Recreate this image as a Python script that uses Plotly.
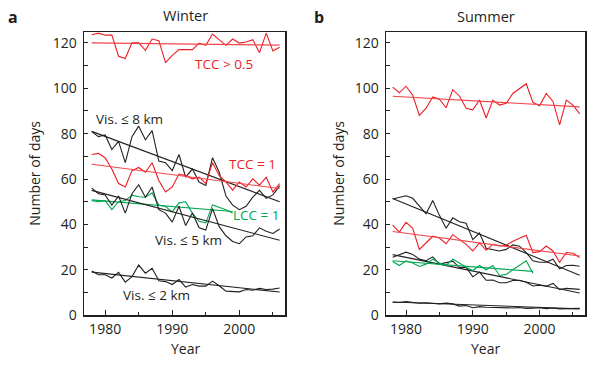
import plotly.graph_objects as go

# ---------------- data ----------------
years = list(range(1978, 2007))
years_lcc = list(range(1978, 2000))

# Winter
w_tcc05 = [123.6, 124.3, 123.4, 123.4, 114.1, 113.1, 120.0, 120.0, 116.7, 121.7, 121.0, 111.3, 114.5, 117.0, 117.0,
           117.0, 119.9, 118.9, 123.9, 121.4, 118.9, 121.7, 119.9, 120.4, 121.4, 115.7, 124.3, 116.4, 118.1]
w_vis8 = [80.9, 78.7, 79.4, 73.0, 76.6, 67.2, 78.7, 83.3, 77.3, 81.3, 67.9, 67.2, 63.7, 70.8, 60.8,
          64.4, 58.7, 57.2, 69.4, 63.0, 52.5, 48.5, 46.5, 48.0, 52.0, 55.0, 51.5, 53.0, 57.0]
w_tcc1 = [70.8, 71.3, 69.4, 64.4, 58.0, 56.5, 63.7, 65.1, 63.0, 67.2, 59.4, 54.3, 56.5, 62.2, 61.5,
          60.1, 60.8, 58.0, 67.2, 61.5, 58.7, 55.1, 58.7, 56.5, 60.1, 57.3, 60.8, 54.3, 58.0]
w_lcc1 = [50.5, 50.0, 50.5, 46.5, 50.0, 50.5, 52.9, 52.2, 52.0, 53.9, 48.6, 47.9, 45.5, 49.5, 50.0,
          45.0, 41.4, 40.7, 48.6, 47.5, 46.5, 45.0]
w_vis5 = [56.0, 53.5, 53.0, 48.5, 52.5, 45.0, 53.5, 57.5, 52.0, 56.5, 46.5, 45.0, 41.0, 48.0, 39.5,
          45.0, 38.5, 37.5, 47.0, 39.0, 35.0, 32.5, 31.5, 34.5, 35.0, 38.5, 37.0, 36.0, 38.0]
w_vis2 = [19.5, 17.8, 17.8, 16.4, 18.9, 14.6, 17.0, 22.1, 18.5, 20.7, 15.2, 14.8, 13.5, 15.7, 12.4,
          13.5, 12.8, 12.8, 15.0, 13.0, 10.6, 10.6, 10.3, 11.3, 11.0, 11.8, 11.3, 11.5, 12.0]

# Summer
s_tcc05 = [100.5, 98.0, 100.9, 96.9, 88.0, 91.2, 96.2, 95.2, 91.4, 99.4, 96.6, 91.2, 90.5, 94.8, 86.9,
           94.8, 92.6, 93.4, 97.7, 99.8, 102.0, 93.8, 92.3, 97.7, 94.2, 83.9, 94.8, 92.6, 88.7]
s_vis8 = [51.2, 51.9, 52.6, 51.5, 48.3, 44.7, 50.5, 44.0, 38.3, 42.9, 41.2, 40.5, 33.3, 36.2, 29.5,
          29.0, 28.3, 29.0, 31.0, 30.4, 27.6, 24.0, 23.3, 23.3, 24.7, 20.4, 21.9, 22.0, 21.6]
s_tcc1 = [39.7, 36.6, 40.9, 38.3, 29.0, 31.9, 34.8, 34.0, 31.5, 35.5, 33.3, 31.2, 28.3, 31.9, 28.6,
          31.2, 30.5, 30.8, 32.6, 34.0, 35.2, 27.6, 28.0, 30.5, 28.3, 23.3, 27.6, 27.3, 25.4]
s_vis5 = [25.5, 26.5, 27.8, 26.8, 24.7, 24.0, 25.7, 22.5, 23.0, 23.8, 21.0, 21.1, 16.9, 19.0, 15.4,
          15.5, 14.3, 14.3, 15.3, 15.4, 14.5, 12.9, 13.2, 12.8, 14.0, 11.3, 11.8, 11.5, 11.4]
s_lcc1 = [23.7, 21.9, 24.0, 23.0, 21.5, 22.5, 24.7, 23.0, 22.0, 24.7, 23.0, 21.1, 19.7, 21.9, 20.0,
          21.9, 17.5, 18.0, 20.0, 21.9, 24.0, 18.5]
s_vis2 = [5.7, 5.6, 6.0, 5.7, 5.3, 5.5, 5.2, 5.0, 5.3, 5.0, 4.0, 4.3, 3.3, 3.8, 3.5,
          3.4, 3.6, 3.3, 3.2, 3.4, 3.0, 3.1, 3.3, 2.9, 3.2, 2.8, 2.9, 3.0, 3.0]

# linear-trend end values (start year, end year)
w_trend_tcc05 = [120.0, 119.0]
w_trend_vis8 = [81.0, 50.0]
w_trend_tcc1 = [66.5, 55.8]
w_trend_lcc1 = [50.8, 45.7]
w_trend_vis5 = [55.0, 33.0]
w_trend_vis2 = [19.0, 10.2]
s_trend_tcc05 = [96.5, 91.8]
s_trend_vis8 = [51.4, 17.6]
s_trend_tcc1 = [36.9, 26.1]
s_trend_vis5 = [26.7, 9.8]
s_trend_lcc1 = [24.0, 19.3]
s_trend_vis2 = [5.8, 2.8]

y_ticks = [0, 20, 40, 60, 80, 100, 120]
x_ticks = [1980, 1990, 2000]

# ---------------- styling ----------------
RED = "rgb(237,28,36)"
RED_T = "rgb(240,70,75)"
GREEN = "rgb(0,166,81)"
BLACK = "rgb(35,31,32)"
BLACK_T = "rgb(35,31,32)"
TXT = "rgb(35,31,32)"
FONT = "Open Sans"

W, H = 601, 373


def px(x):
    return x / W


def py(y):
    return 1 - y / H


fig = go.Figure()

panels = [
    ("x", "y", [
        (years, w_tcc05, w_trend_tcc05, RED, RED_T),
        (years, w_vis8, w_trend_vis8, BLACK, BLACK_T),
        (years, w_tcc1, w_trend_tcc1, RED, RED_T),
        (years_lcc, w_lcc1, w_trend_lcc1, GREEN, GREEN),
        (years, w_vis5, w_trend_vis5, BLACK, BLACK_T),
        (years, w_vis2, w_trend_vis2, BLACK, BLACK_T),
    ]),
    ("x2", "y2", [
        (years, s_tcc05, s_trend_tcc05, RED, RED_T),
        (years, s_vis8, s_trend_vis8, BLACK, BLACK_T),
        (years, s_tcc1, s_trend_tcc1, RED, RED_T),
        (years, s_vis5, s_trend_vis5, BLACK, BLACK_T),
        (years_lcc, s_lcc1, s_trend_lcc1, GREEN, GREEN),
        (years, s_vis2, s_trend_vis2, BLACK, BLACK_T),
    ]),
]

for xa, ya, series in panels:
    for yrs, vals, trend, col, tcol in series:
        fig.add_trace(go.Scatter(x=yrs, y=vals, mode="lines", xaxis=xa, yaxis=ya,
                                 line=dict(color=col, width=1.1), showlegend=False, hoverinfo="skip"))
        fig.add_trace(go.Scatter(x=[yrs[0], yrs[-1]], y=trend, mode="lines", xaxis=xa, yaxis=ya,
                                 line=dict(color=tcol, width=1.1), showlegend=False, hoverinfo="skip"))

axis_common = dict(showline=True, linecolor=BLACK, linewidth=1.5, mirror=True, showgrid=False,
                   zeroline=False, ticks="inside", tickcolor=BLACK,
                   tickfont=dict(family=FONT, size=14, color=TXT))

xa_common = dict(axis_common, range=[1976.85, 2006.8], tickvals=x_ticks, ticklen=5, tickwidth=1,
                 minor=dict(tickvals=[1985, 1995, 2005], ticklen=3, ticks="inside", tickcolor=BLACK))
ya_common = dict(axis_common, range=[0, 124.7], tickvals=y_ticks, ticklen=4, tickwidth=1,
                 ticklabelstandoff=3,
                 minor=dict(tickvals=[10, 30, 50, 70, 90, 110], ticklen=4, ticks="inside", tickcolor=BLACK))

fig.update_layout(
    width=W, height=H, margin=dict(l=0, r=0, t=0, b=0),
    paper_bgcolor="white", plot_bgcolor="white",
    xaxis=dict(xa_common, domain=[px(84), px(285)], anchor="y"),
    yaxis=dict(ya_common, domain=[py(323), py(33)], anchor="x"),
    xaxis2=dict(xa_common, domain=[px(386), px(585)], anchor="y2", range=[1977.0, 2006.8]),
    yaxis2=dict(ya_common, domain=[py(323), py(33)], anchor="x2"),
)

ann = []
def text(x, y, s, size=14, color=TXT, xref="paper", yref="paper", angle=0, bold=False):
    ann.append(dict(x=x, y=y, xref=xref, yref=yref, text=("<b>%s</b>" % s) if bold else s,
                    showarrow=False, xanchor="center", yanchor="middle", textangle=angle,
                    font=dict(family=FONT, size=size, color=color)))

text(px(185), py(16), "Winter", size=14.5)
text(px(486), py(17), "Summer", size=14.5)
text(px(13), py(17), "a", size=16, bold=True)
text(px(319), py(17), "b", size=16, bold=True)
text(px(35), py(178), "Number of days", angle=-90)
text(px(339), py(178), "Number of days", angle=-90)
text(px(185), py(357), "Year")
text(px(486), py(357), "Year")

# series labels (left panel, in data coords)
text(1997.7, 110.7, "TCC > 0.5", size=13.5, color=RED, xref="x", yref="y")
text(1983.6, 86.6, "Vis. ≤ 8 km", size=13.5, color=TXT, xref="x", yref="y")
text(2002.0, 66.7, "TCC = 1", size=13.5, color=RED, xref="x", yref="y")
text(2002.6, 44.3, "LCC = 1", size=13.5, color=GREEN, xref="x", yref="y")
text(1992.4, 33.1, "Vis. ≤ 5 km", size=13.5, color=TXT, xref="x", yref="y")
text(1987.7, 8.7, "Vis. ≤ 2 km", size=13.5, color=TXT, xref="x", yref="y")

fig.update_layout(annotations=ann)
fig.write_html("out.html", config={"displayModeBar": False, "staticPlot": True})

# remove default page margin so the figure sits at the window origin
with open("out.html", "r", encoding="utf-8") as f:
    html = f.read()
html = html.replace("<body>", '<body style="margin:0;padding:0;overflow:hidden">', 1)
html = html.replace("<head>", '<head><style>html,body{margin:0;padding:0;}</style>', 1)
with open("out.html", "w", encoding="utf-8") as f:
    f.write(html)
